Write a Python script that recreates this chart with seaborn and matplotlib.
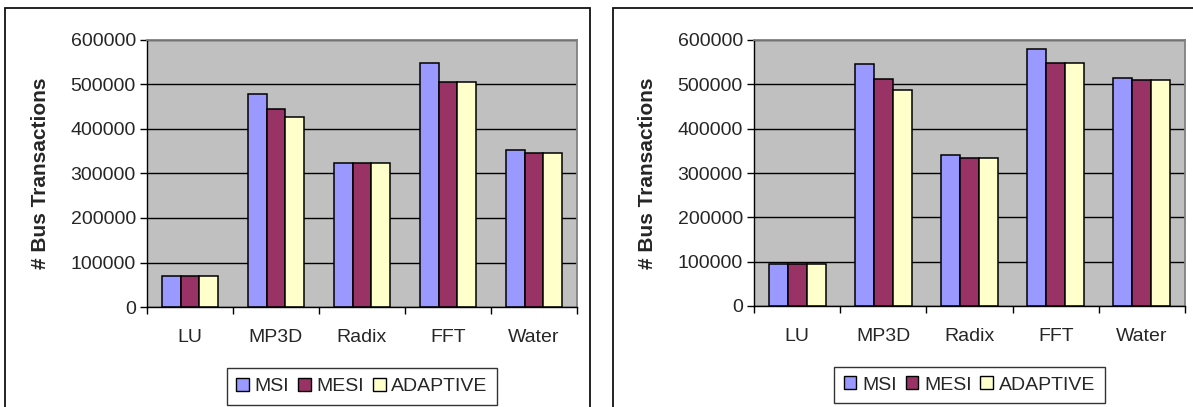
import matplotlib
matplotlib.use('agg')
import matplotlib.pyplot as plt
from matplotlib.patches import Rectangle
from matplotlib.ticker import MultipleLocator, FixedLocator
import pandas as pd
import seaborn as sns

benchmarks = ['LU', 'MP3D', 'Radix', 'FFT', 'Water']
protocols = ['MSI', 'MESI', 'ADAPTIVE']

# left chart
left_msi = [70000, 478000, 324000, 548000, 352000]
left_mesi = [70000, 446000, 324000, 506000, 346000]
left_adaptive = [70000, 426000, 324000, 506000, 346000]

# right chart
right_msi = [94000, 546000, 340000, 580000, 515000]
right_mesi = [94000, 513000, 334000, 548000, 509000]
right_adaptive = [94000, 487000, 334000, 548000, 509000]

colors = ['#9999FF', '#993366', '#FFFFCC']


def long_frame(msi, mesi, adaptive):
    rows = []
    for proto, vals in zip(protocols, [msi, mesi, adaptive]):
        for b, v in zip(benchmarks, vals):
            rows.append({'benchmark': b, 'protocol': proto, 'transactions': v})
    return pd.DataFrame(rows)


sns.set_theme(style='white')
plt.rcParams['font.family'] = ['Liberation Sans', 'DejaVu Sans']

fig = plt.figure(figsize=(11.93, 4.07), dpi=100)

# panel frames
fig.add_artist(Rectangle((5 / 1193, -0.1), (590 - 5) / 1193, 1.1 - 8 / 407,
                         transform=fig.transFigure, fill=False,
                         edgecolor='#111111', lw=1.3, clip_on=False))
fig.add_artist(Rectangle((613 / 1193, -0.1), 0.6, 1.1 - 8 / 407,
                         transform=fig.transFigure, fill=False,
                         edgecolor='#111111', lw=1.3, clip_on=False))

axes_pos = [[147 / 1193, 1 - 307 / 407, 430 / 1193, 267 / 407],
            [754 / 1193, 1 - 306 / 407, 431 / 1193, 266 / 407]]
datasets = [(left_msi, left_mesi, left_adaptive),
            (right_msi, right_mesi, right_adaptive)]

fs = 14

for pos, data in zip(axes_pos, datasets):
    ax = fig.add_axes(pos)
    df = long_frame(*data)
    sns.barplot(data=df, x='benchmark', y='transactions', hue='protocol',
                palette=colors, edgecolor='black', linewidth=1.1,
                width=0.66, ax=ax, saturation=1)
    ax.set_facecolor('#C0C0C0')
    ax.set_axisbelow(True)
    ax.set_ylim(0, 600000)
    ax.set_xlim(-0.5, 4.5)
    ax.yaxis.set_major_locator(MultipleLocator(100000))
    ax.yaxis.grid(True, color='black', lw=1)
    ax.xaxis.grid(False)
    ax.xaxis.set_minor_locator(FixedLocator([-0.5, 0.5, 1.5, 2.5, 3.5, 4.5]))
    ax.tick_params(axis='x', which='major', length=0, pad=16, labelsize=fs)
    ax.tick_params(axis='x', which='minor', length=5, width=1, color='black',
                   direction='out', bottom=True)
    ax.tick_params(axis='y', length=5, width=1, color='black', direction='out',
                   left=True, labelsize=fs, pad=3)
    for side in ['top', 'right']:
        ax.spines[side].set_color('#808080')
        ax.spines[side].set_linewidth(1.3)
    for side in ['left', 'bottom']:
        ax.spines[side].set_color('black')
        ax.spines[side].set_linewidth(1)
    ax.set_xlabel('')
    ax.set_ylabel('# Bus Transactions', fontsize=15, fontweight='bold')
    ax.yaxis.set_label_coords(-0.225, 0.5)
    sns.move_legend(ax, 'upper center', bbox_to_anchor=(0.5, -0.228), ncol=3,
                    title=None, frameon=True, fancybox=False, fontsize=fs,
                    handlelength=0.65, handleheight=0.65, handletextpad=0.3,
                    columnspacing=0.45, borderpad=0.5, borderaxespad=0,
                    edgecolor='black')
    leg = ax.get_legend()
    leg.get_frame().set_linewidth(1)
    for h in leg.legend_handles:
        h.set_edgecolor('black')
        h.set_linewidth(1)

plt.savefig('out.png', dpi=100)
